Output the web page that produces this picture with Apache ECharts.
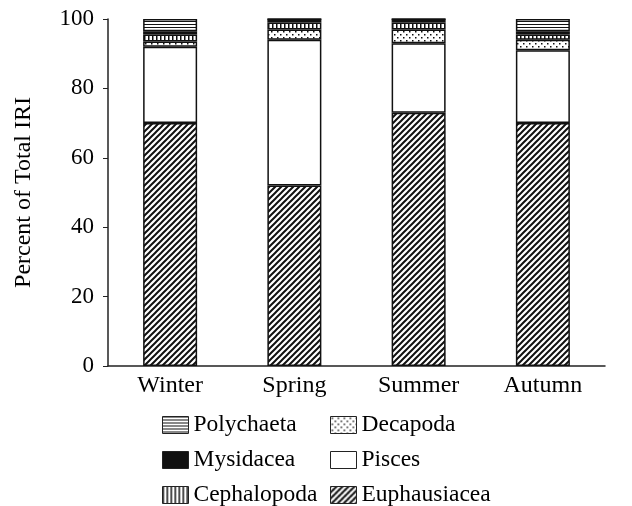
<!DOCTYPE html>
<html>
<head>
<meta charset="utf-8">
<script src="https://cdn.jsdelivr.net/npm/echarts@6/dist/echarts.min.js"></script>
<style>
  html, body { margin: 0; padding: 0; background: #fff; }
  #chart { width: 632px; height: 506px; }
</style>
</head>
<body>
<div id="chart"></div>
<script>
// data (percent of total IRI)
const seasons = ['Winter', 'Spring', 'Summer', 'Autumn']
const euphausiacea = [70, 52, 73, 70]
const pisces = [22, 42, 20, 21]
const decapoda = [1.5, 3, 4, 3]
const cephalopoda = [2, 2, 2, 1.5]
const mysidacea = [1, 1, 1, 1]
const polychaeta = [3.5, 0, 0, 3.5]
const yTicks = [0, 20, 40, 60, 80, 100]

const FONT = 'Liberation Serif'

// small canvas tiles for the hatch fills
function makeTile(size, draw) {
  const c = document.createElement('canvas')
  c.width = size
  c.height = size
  const ctx = c.getContext('2d')
  ctx.fillStyle = '#fff'
  ctx.fillRect(0, 0, size, size)
  ctx.fillStyle = '#111'
  ctx.strokeStyle = '#111'
  draw(ctx, size)
  return { image: c, repeat: 'repeat' }
}

const diagFill = makeTile(6, (ctx, s) => {
  ctx.lineWidth = 2
  ctx.beginPath()
  ctx.moveTo(-1, s + 1); ctx.lineTo(s + 1, -1)
  ctx.moveTo(-1, 1); ctx.lineTo(1, -1)
  ctx.moveTo(s - 1, s + 1); ctx.lineTo(s + 1, s - 1)
  ctx.stroke()
})
const dotFill = makeTile(6, (ctx) => {
  ctx.fillRect(1, 1, 1.5, 1.5)
  ctx.fillRect(4, 4, 1.5, 1.5)
})
const vertFill = makeTile(4, (ctx, s) => {
  ctx.fillRect(0, 0, 1.5, s)
})
const horzFill = makeTile(3, (ctx, s) => {
  ctx.fillRect(0, 0, s, 1)
})

const layers = [
  { name: 'Euphausiacea', data: euphausiacea, color: diagFill },
  { name: 'Pisces', data: pisces, color: '#fff' },
  { name: 'Decapoda', data: decapoda, color: dotFill },
  { name: 'Cephalopoda', data: cephalopoda, color: vertFill },
  { name: 'Mysidacea', data: mysidacea, color: '#111' },
  { name: 'Polychaeta', data: polychaeta, color: horzFill }
]

// legend columns as laid out in the figure
const legendLeft = ['Polychaeta', 'Mysidacea', 'Cephalopoda']
const legendRight = ['Decapoda', 'Pisces', 'Euphausiacea']

const chart = echarts.init(document.getElementById('chart'), null, { renderer: 'canvas' })

// one legend per entry so the two columns line up exactly
function legendEntry(name, row, left) {
  return {
    left: left,
    top: 413 + row * 35,
    padding: 0,
    itemWidth: 26,
    itemHeight: 17,
    itemGap: 0,
    icon: 'rect',
    textStyle: { fontFamily: FONT, fontSize: 23.5, color: '#000' },
    data: [{ name: name, itemStyle: { borderColor: '#222', borderWidth: 1 } }],
    selectedMode: false
  }
}

const legends = legendLeft.map((n, i) => legendEntry(n, i, 162))
  .concat(legendRight.map((n, i) => legendEntry(n, i, 330)))

const option = {
  backgroundColor: '#fff',
  animation: false,
  grid: { left: 108, right: 27, top: 19, bottom: 140 },
  legend: legends,
  xAxis: {
    type: 'category',
    data: seasons,
    axisLine: { lineStyle: { color: '#222', width: 1.5 } },
    axisTick: { show: false },
    axisLabel: { fontFamily: FONT, fontSize: 24, color: '#000', margin: 8 }
  },
  yAxis: {
    type: 'value',
    min: yTicks[0],
    max: yTicks[yTicks.length - 1],
    interval: 20,
    name: 'Percent of Total IRI',
    nameLocation: 'middle',
    nameGap: 72,
    nameTextStyle: { fontFamily: FONT, fontSize: 24, color: '#000' },
    axisLine: { show: true, lineStyle: { color: '#222', width: 1.5 } },
    axisTick: { show: true, length: 5, lineStyle: { color: '#222' } },
    axisLabel: { fontFamily: FONT, fontSize: 23, color: '#000', margin: 14 },
    splitLine: { show: false }
  },
  series: layers.map(l => ({
    name: l.name,
    type: 'bar',
    stack: 'iri',
    barWidth: 54,
    data: l.data,
    itemStyle: { color: l.color, borderColor: '#111', borderWidth: 1.5 }
  }))
}

chart.setOption(option)
</script>
</body>
</html>
